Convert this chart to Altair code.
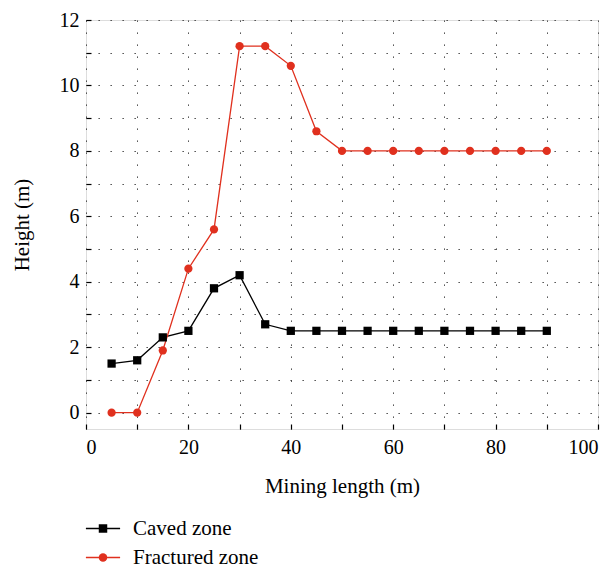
import altair as alt
import pandas as pd

mining_length = [5, 10, 15, 20, 25, 30, 35, 40, 45, 50, 55, 60, 65, 70, 75, 80, 85, 90]
caved_zone = [1.5, 1.6, 2.3, 2.5, 3.8, 4.2, 2.7, 2.5, 2.5, 2.5, 2.5, 2.5, 2.5, 2.5, 2.5, 2.5, 2.5, 2.5]
fractured_zone = [0.0, 0.0, 1.9, 4.4, 5.6, 11.2, 11.2, 10.6, 8.6, 8.0, 8.0, 8.0, 8.0, 8.0, 8.0, 8.0, 8.0, 8.0]
series_names = ["Caved zone", "Fractured zone"]
series_colors = ["#000000", "#e0301e"]
series_shapes = ["square", "circle"]
x_ticks = [0, 10, 20, 30, 40, 50, 60, 70, 80, 90, 100]
y_ticks = [0, 1, 2, 3, 4, 5, 6, 7, 8, 9, 10, 11, 12]

rows = []
for xv, c, f in zip(mining_length, caved_zone, fractured_zone):
    rows.append({"length": xv, "height": c, "series": series_names[0]})
    rows.append({"length": xv, "height": f, "series": series_names[1]})
df = pd.DataFrame(rows)

FONT = "Liberation Serif, DejaVu Serif, Times New Roman, serif"
xscale = alt.Scale(domain=[0, 100], nice=False, zero=False)
yscale = alt.Scale(domain=[-0.5, 12], nice=False, zero=False)
cscale = alt.Scale(domain=series_names, range=series_colors)
# stroke scale for the legend line segments (extra hidden entry keeps it a separate legend)
sscale = alt.Scale(domain=series_names + ["~"], range=series_colors + ["#ffffff"])

x_axis = alt.Axis(
    values=x_ticks, labelExpr="datum.value % 20 === 0 ? datum.label : ''",
    ticks=True, tickSize=5, tickColor="black", tickWidth=1.2, offset=-5,
    grid=True, gridDash=[1.3, 10.7], gridColor="#333", gridWidth=1,
    domain=False,
    labelFont=FONT, labelFontSize=20, labelColor="black", labelPadding=8, labelOverlap=False,
    title="Mining length (m)", titleFont=FONT, titleFontSize=21, titleFontWeight="normal",
    titleColor="black", titlePadding=18,
)
y_axis = alt.Axis(
    values=y_ticks, labelExpr="datum.value % 2 === 0 ? datum.label : ''",
    ticks=True, tickSize=5, tickColor="black", tickWidth=1.2, offset=-5,
    grid=True, gridDash=[1.3, 10.7], gridColor="#333", gridWidth=1,
    domain=False,
    labelFont=FONT, labelFontSize=20, labelColor="black", labelPadding=7, labelOverlap=False,
    title="Height (m)", titleFont=FONT, titleFontSize=21, titleFontWeight="normal",
    titleColor="black", titlePadding=27,
)

leg_line = alt.Legend(
    title=None, orient="none", legendX=6.5, legendY=498, direction="vertical",
    values=series_names, symbolType="M-3.8,0L3.8,0", symbolSize=81, symbolStrokeWidth=1.3,
    labelFont=FONT, labelFontSize=21, labelOpacity=0, labelOffset=19.5,
    rowPadding=7, padding=0,
)
leg_mark = alt.Legend(
    title=None, orient="none", legendX=6.5, legendY=498, direction="vertical",
    symbolSize=72, symbolStrokeWidth=0, symbolOpacity=1,
    labelFont=FONT, labelFontSize=21, labelColor="black", labelOffset=19.5,
    rowPadding=7, padding=0,
)

base = alt.Chart(df)

lines = base.mark_line(strokeWidth=1.3).encode(
    x=alt.X("length:Q", scale=xscale, axis=x_axis),
    y=alt.Y("height:Q", scale=yscale, axis=y_axis),
    stroke=alt.Stroke("series:N", scale=sscale, legend=leg_line),
    detail="series:N",
)

points = base.mark_point(filled=True, opacity=1, size=68).encode(
    x=alt.X("length:Q", scale=xscale, axis=x_axis),
    y=alt.Y("height:Q", scale=yscale, axis=y_axis),
    color=alt.Color("series:N", scale=cscale, legend=leg_mark),
    shape=alt.Shape("series:N", scale=alt.Scale(domain=series_names, range=series_shapes), legend=leg_mark),
)

chart = (
    alt.layer(lines, points)
    .properties(
        width=512, height=409, autosize="none",
        padding={"left": 78, "top": 12, "right": 7, "bottom": 136},
    )
    .configure_view(stroke="black", strokeWidth=1.6)
    .configure(background="white")
)

chart.save("out.html", embed_options={"renderer": "svg", "actions": False})
